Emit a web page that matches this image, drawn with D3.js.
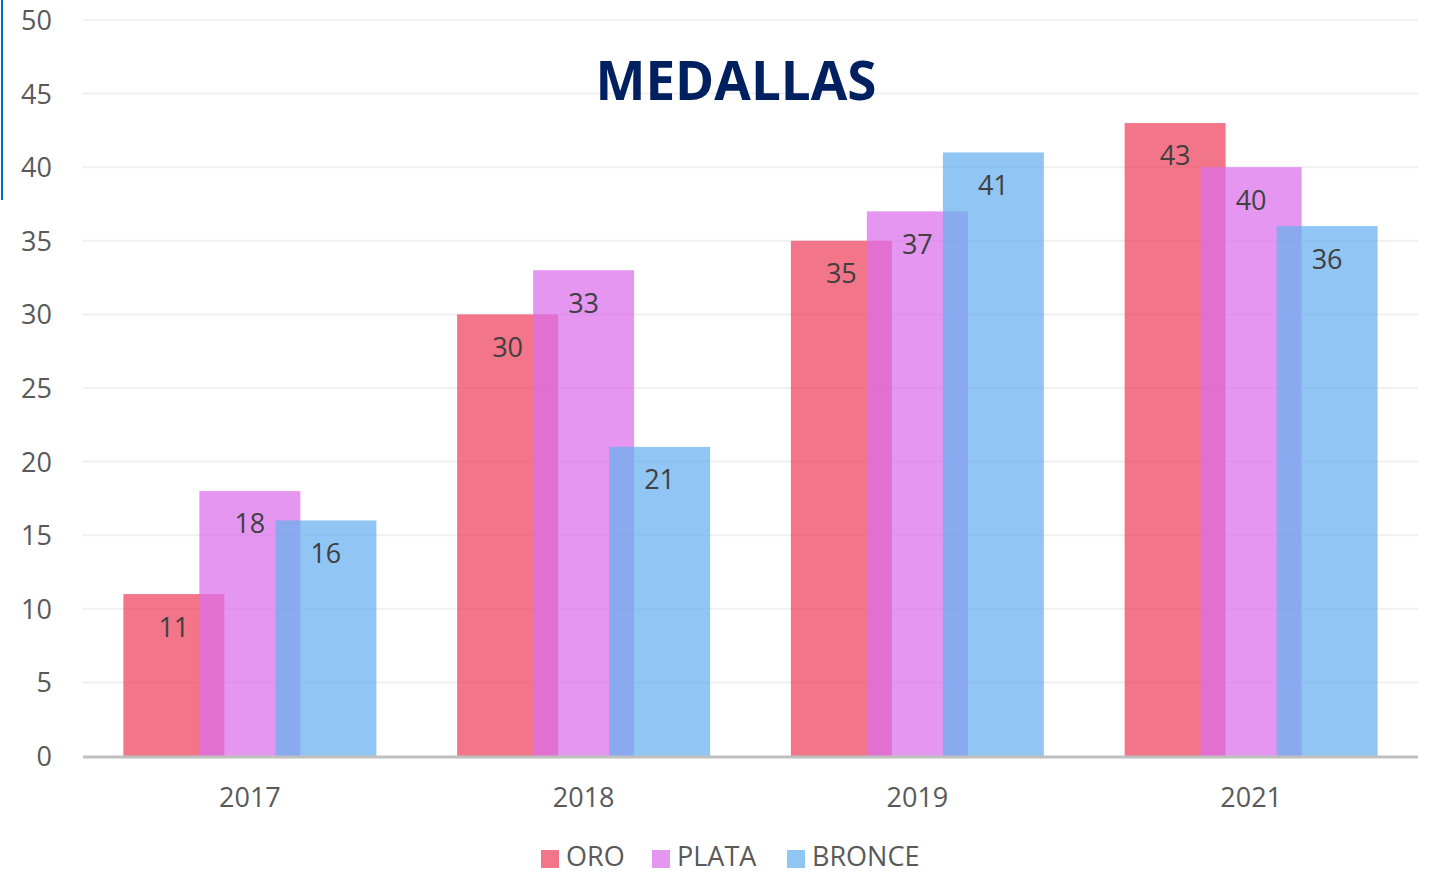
<!DOCTYPE html>
<html><head><meta charset="utf-8">
<script src="https://cdn.jsdelivr.net/npm/d3@7"></script>
<style>body{margin:0;background:#fff;}svg{display:block;font-family:"Open Sans",sans-serif;}</style>
</head><body>
<svg id="c" width="1430" height="873"></svg>
<script>
const categories = ["2017","2018","2019","2021"];
const seriesNames = ["ORO","PLATA","BRONCE"];
const oro = [11,30,35,43];
const plata = [18,33,37,40];
const bronce = [16,21,41,36];
const yTicks = [0,5,10,15,20,25,30,35,40,45,50];
const colors = ["rgb(238,66,95)","rgb(220,111,234)","rgb(104,177,240)"];
const series = [oro,plata,bronce];

(function(){
const svg = d3.select("#c");
const mLeft = 83, mRight = 1418, mTop = 20, mBottom = 756;
const x = d3.scaleBand().domain(categories).range([mLeft,mRight]).paddingInner(0).paddingOuter(0);
const y = d3.scaleLinear().domain([0,50]).range([mBottom,mTop]);
const barW = 101, shift = 76;
const fs = 27;

svg.append("line").attr("x1",2).attr("x2",2).attr("y1",0).attr("y2",200).attr("stroke","#0070C0").attr("stroke-width",2);

svg.append("g").selectAll("line").data(yTicks.filter(d=>d>0)).join("line")
  .attr("x1",mLeft).attr("x2",mRight).attr("y1",d=>y(d)).attr("y2",d=>y(d))
  .attr("stroke","#efefef").attr("stroke-width",2);

const yAxis = d3.axisLeft(y).tickValues(yTicks).tickSize(0).tickPadding(0);
const ya = svg.append("g").attr("transform",`translate(52,0)`).call(yAxis);
ya.select(".domain").remove();
ya.selectAll("text").attr("font-size",fs).attr("fill","#595959").attr("font-family","Open Sans").attr("dy","0.35em");

svg.append("text").attr("x",736).attr("y",100).attr("text-anchor","middle")
  .attr("font-size",53).attr("font-weight","bold").attr("fill","#002060").text("MEDALLAS");

series.forEach((s,i)=>{
  svg.append("g").selectAll("rect").data(s).join("rect")
    .attr("x",(d,j)=>x(categories[j]) + x.bandwidth()/2 - barW/2 + (i-1)*shift)
    .attr("y",d=>y(d)).attr("width",barW).attr("height",d=>mBottom-y(d))
    .attr("fill",colors[i]).attr("fill-opacity",0.73);
});
series.forEach((s,i)=>{
  svg.append("g").selectAll("text").data(s).join("text")
    .attr("x",(d,j)=>x(categories[j]) + x.bandwidth()/2 + (i-1)*shift)
    .attr("y",d=>y(d)+33).attr("dy","0.35em").attr("text-anchor","middle")
    .attr("font-size",fs).attr("fill","#404040").text(d=>d);
});

svg.append("line").attr("x1",mLeft).attr("x2",mRight).attr("y1",mBottom+1).attr("y2",mBottom+1)
  .attr("stroke","#bfbfbf").attr("stroke-width",3);
const xAxis = d3.axisBottom(x).tickSize(0).tickPadding(0);
const xa = svg.append("g").attr("transform",`translate(0,${mBottom})`).call(xAxis);
xa.select(".domain").remove();
xa.selectAll("text").attr("y",42).attr("dy","0.35em").attr("font-size",fs).attr("fill","#595959").attr("font-family","Open Sans");

const legX = [541,652,787];
const lg = svg.append("g");
seriesNames.forEach((n,i)=>{
  lg.append("rect").attr("x",legX[i]).attr("y",850).attr("width",18).attr("height",18).attr("fill",colors[i]).attr("fill-opacity",0.73);
  lg.append("text").attr("x",legX[i]+25).attr("y",857).attr("dy","0.35em").attr("font-size",fs).attr("fill","#595959").text(n);
});
})();
</script>
</body></html>
